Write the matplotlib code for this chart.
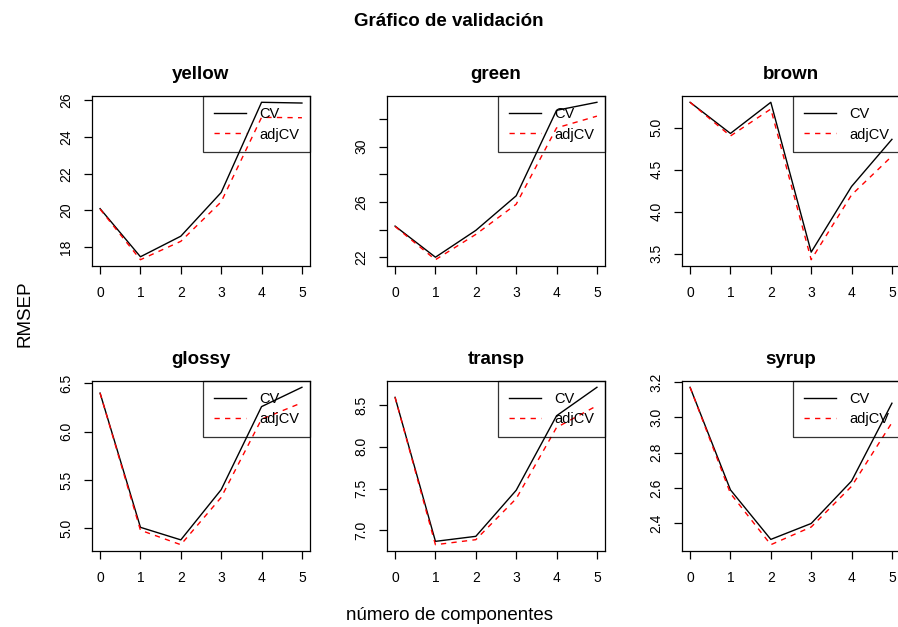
import numpy as np
import matplotlib
matplotlib.use("Agg")
import matplotlib.pyplot as plt

plt.rcParams['font.family'] = ['Liberation Sans', 'DejaVu Sans']

# RMSEP by number of components, per response
ncomp = [0, 1, 2, 3, 4, 5]
names = ['yellow', 'green', 'brown', 'glossy', 'transp', 'syrup']

cv = {
    'yellow': [20.10, 17.48, 18.60, 20.98, 25.89, 25.85],
    'green':  [24.25, 22.00, 23.94, 26.44, 32.62, 33.20],
    'brown':  [5.30, 4.93, 5.30, 3.52, 4.30, 4.86],
    'glossy': [6.40, 5.01, 4.88, 5.40, 6.26, 6.46],
    'transp': [8.59, 6.87, 6.93, 7.48, 8.37, 8.71],
    'syrup':  [3.17, 2.59, 2.31, 2.40, 2.64, 3.08],
}
adjcv = {
    'yellow': [20.07, 17.32, 18.32, 20.47, 25.07, 25.05],
    'green':  [24.22, 21.82, 23.65, 25.83, 31.35, 32.20],
    'brown':  [5.30, 4.90, 5.22, 3.43, 4.20, 4.66],
    'glossy': [6.40, 4.98, 4.83, 5.32, 6.13, 6.30],
    'transp': [8.59, 6.83, 6.89, 7.38, 8.23, 8.49],
    'syrup':  [3.17, 2.57, 2.28, 2.38, 2.61, 2.97],
}

yticks = {
    'yellow': [18, 20, 22, 24, 26],
    'green':  [22, 24, 26, 28, 30, 32],
    'brown':  [3.5, 4.0, 4.5, 5.0],
    'glossy': [5.0, 5.5, 6.0, 6.5],
    'transp': [7.0, 7.5, 8.0, 8.5],
    'syrup':  [2.4, 2.6, 2.8, 3.0, 3.2],
}
ylabels = {
    'yellow': ['18', '20', '22', '24', '26'],
    'green':  ['22', '', '26', '', '30', ''],
    'brown':  ['3.5', '4.0', '4.5', '5.0'],
    'glossy': ['5.0', '5.5', '6.0', '6.5'],
    'transp': ['7.0', '7.5', '8.0', '8.5'],
    'syrup':  ['2.4', '2.6', '2.8', '3.0', '3.2'],
}

W, H = 898, 627
fig = plt.figure(figsize=(W / 100, H / 100), dpi=100)

lefts = [92, 387, 682]
tops = [96, 381]
aw, ah = 218, 170

for k, name in enumerate(names):
    r, c = divmod(k, 3)
    ax = fig.add_axes([lefts[c] / W, 1 - (tops[r] + ah) / H, aw / W, ah / H])
    ax.plot(ncomp, cv[name], color='black', lw=1.0, label='CV')
    ax.plot(ncomp, adjcv[name], color='red', lw=1.0, dashes=(3.8, 3.8), label='adjCV')

    lo = min(min(cv[name]), min(adjcv[name]))
    hi = max(max(cv[name]), max(adjcv[name]))
    pad = 0.04 * (hi - lo)
    ax.set_ylim(lo - pad, hi + pad)
    ax.set_xlim(-0.2, 5.2)

    ax.set_xticks(ncomp)
    ax.set_yticks(yticks[name])
    ax.set_yticklabels(ylabels[name], rotation=90, va='center')
    ax.tick_params(direction='out', length=5.5, width=0.9, labelsize=10)
    ax.tick_params(axis='x', pad=9)
    ax.tick_params(axis='y', pad=8)
    for s in ax.spines.values():
        s.set_linewidth(0.9)

    ax.set_title(name, fontweight='bold', fontsize=13.5, pad=12)

    leg = ax.legend(loc='upper right', fontsize=10.5, frameon=True, fancybox=False,
                    borderaxespad=0, handlelength=2.2, handletextpad=0.9,
                    labelspacing=0.45, borderpad=0.75)
    fr = leg.get_frame()
    fr.set_facecolor('none')
    fr.set_edgecolor('black')
    fr.set_linewidth(0.9)

fig.text(449 / W, 1 - 21 / H, 'Gráfico de validación', ha='center', va='center',
         fontweight='bold', fontsize=13.5)
fig.text(25 / W, 1 - 314 / H, 'RMSEP', ha='center', va='center', rotation=90, fontsize=13.5)
fig.text(449 / W, 1 - 615 / H, 'número de componentes', ha='center', va='center', fontsize=13.5)

fig.savefig('out.png', dpi=100)
